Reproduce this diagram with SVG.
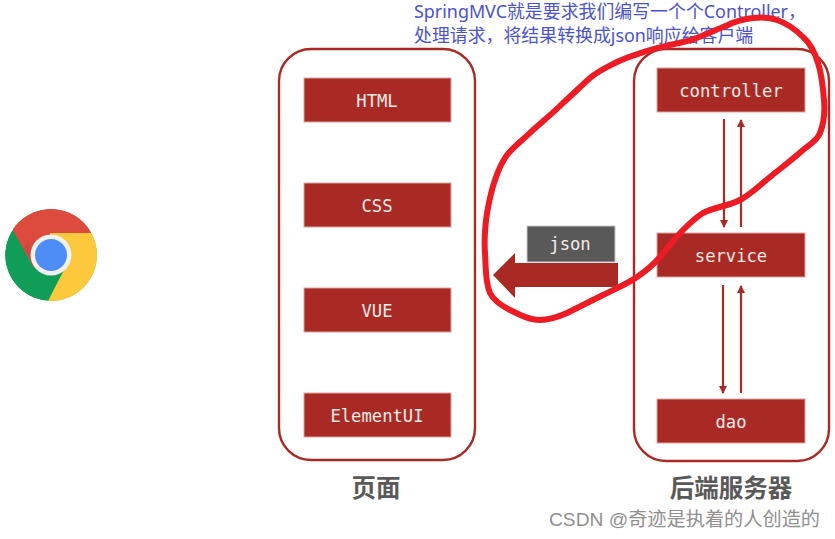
<svg xmlns="http://www.w3.org/2000/svg" width="835" height="539" viewBox="0 0 835 539">
<style>
.box{fill:#a92a25;stroke:#d9a3a0;stroke-width:1}
.panel{fill:#fff;stroke:#a92a25;stroke-width:2.4}
.t{font-family:"DejaVu Sans Mono","Liberation Mono",monospace;font-size:17.2px;fill:#f7ece6;text-anchor:middle}
.h{font-family:"Noto Sans CJK SC",sans-serif;font-size:24.5px;font-weight:700;fill:#595959;text-anchor:middle}
.n{font-family:"Noto Sans","Noto Sans CJK SC",sans-serif;font-size:17.9px;fill:#4a52d0}
.w{font-family:"Liberation Sans","Noto Sans CJK SC",sans-serif;font-size:19.2px;fill:#8f8f8f}
.l{stroke:#a92a25;stroke-width:2.2;fill:none}
</style>
<defs>
<marker id="ah" markerUnits="userSpaceOnUse" markerWidth="8" markerHeight="9" refX="7" refY="4" orient="auto"><path d="M0 0L8 4L0 8Z" fill="#a92a25"/></marker>
<clipPath id="cc"><circle cx="51" cy="255" r="46"/></clipPath>
</defs>
<rect width="835" height="539" fill="#fff"/>
<g id="chrome" clip-path="url(#cc)">
<circle cx="51" cy="255" r="46" fill="#0f9d58"/>
<path d="M12.700 230L34 268L51 255L56 233H91L85 205H12Z" fill="#dc4b3e"/>
<path d="M91 233H50L51 255L65 268L48 301H97V233Z" fill="#fdc93c"/>
<path d="M28 240L36 268L24 248Z" fill="#c0463a" opacity=".5"/>
<circle cx="51" cy="255" r="20.500" fill="#f1f1f1"/>
<circle cx="51" cy="255" r="16" fill="#4e8df5"/>
</g>
<g id="page-panel"><rect class="panel" x="279" y="49" width="196" height="411" rx="32"/><text class="h" x="376" y="497">页面</text></g>
<g id="server-panel"><rect class="panel" x="634" y="49" width="195" height="412" rx="32"/><text class="h" x="731" y="497">后端服务器</text></g>
<g id="html"><rect class="box" x="304" y="78" width="147" height="44"/><text class="t" x="377" y="107">HTML</text></g>
<g id="css"><rect class="box" x="304" y="183" width="147" height="44"/><text class="t" x="377" y="212">CSS</text></g>
<g id="vue"><rect class="box" x="304" y="288" width="147" height="44"/><text class="t" x="377" y="317">VUE</text></g>
<g id="elementui"><rect class="box" x="304" y="393" width="147" height="44"/><text class="t" x="377" y="422">ElementUI</text></g>
<g id="controller"><rect class="box" x="657" y="68" width="148" height="44"/><text class="t" x="731" y="97">controller</text></g>
<g id="service"><rect class="box" x="657" y="233" width="148" height="44"/><text class="t" x="731" y="262">service</text></g>
<g id="dao"><rect class="box" x="657" y="399" width="148" height="44"/><text class="t" x="731" y="428">dao</text></g>
<g id="json"><rect x="527" y="226" width="88" height="36" fill="#595959" stroke="#c8c8c8"/><text class="t" x="570" y="250">json</text></g>
<g id="connectors">
<path class="l" d="M724 119V227" marker-end="url(#ah)"/>
<path class="l" d="M741 227V120" marker-end="url(#ah)"/>
<path class="l" d="M723 285V393" marker-end="url(#ah)"/>
<path class="l" d="M741 393V286" marker-end="url(#ah)"/>
<path d="M618 263V287H515V298L493 275L515 253V263Z" fill="#a92a25"/>
</g>
<g id="note"><text class="n" x="414" y="18">SpringMVC就是要求我们编写一个个Controller&#xFF0C;</text><text class="n" x="414" y="42">处理请求&#xFF0C;将结果转换成json响应给客户端</text></g>
<path id="scribble" d="M728 25C710 32 695 40 683 42C670 45 660 47 650 50C638 54 627 57 617 62C607 67 598 71 590 78C581 86 572 95 563 103C553 113 543 121 533 130C524 139 514 146 507 155C501 163 498 171 495 180C491 191 489 202 487 213C485 227 484 240 485 253C486 268 485 282 490 293C494 301 502 306 510 310C520 315 530 320 540 320C550 320 558 317 567 313C579 307 591 301 603 295C615 289 627 284 637 277C646 271 653 265 660 257C668 248 675 238 683 230C689 224 695 218 703 213C714 207 729 206 740 200C751 194 760 185 770 177C781 168 793 159 803 150C810 144 817 141 820 133C824 123 825 111 824 100C823 87 822 75 818 63C815 53 811 44 803 37C796 30 786 23 777 20C769 17 761 17 753 18C744 19 736 21 728 25Z" fill="none" stroke="#ed1c24" stroke-width="6" stroke-linejoin="round"/>
<text id="watermark" class="w" x="549" y="526">CSDN @奇迹是执着的人创造的</text>
</svg>
